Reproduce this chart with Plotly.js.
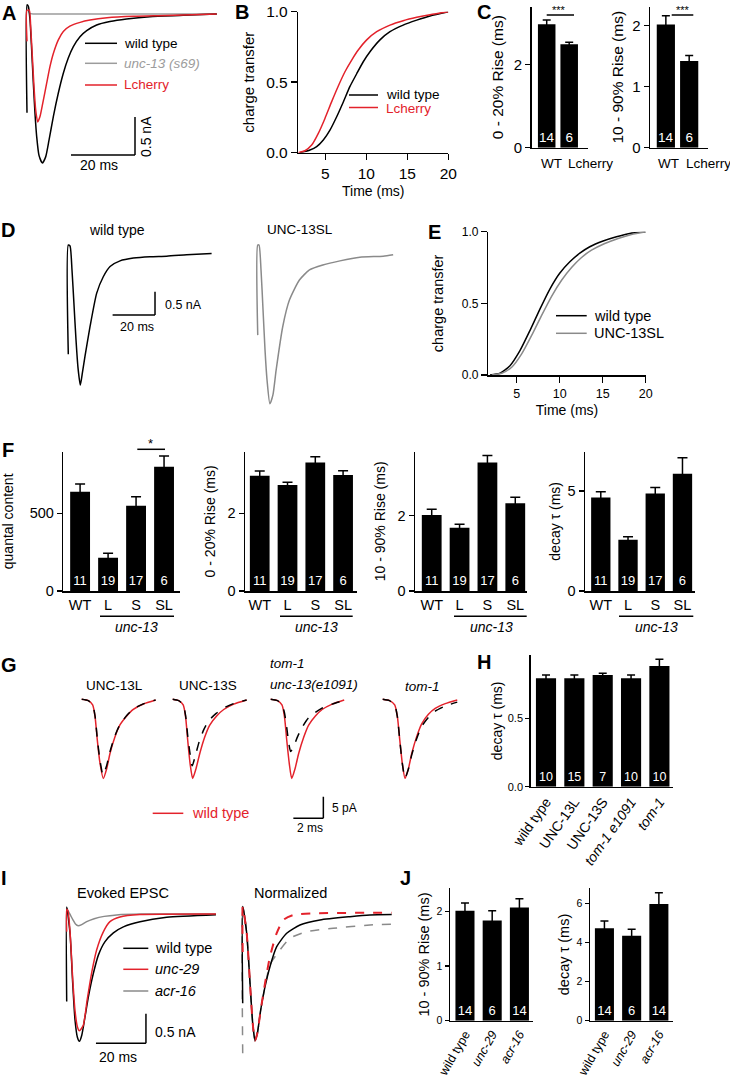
<!DOCTYPE html>
<html><head><meta charset="utf-8">
<script src="https://cdn.plot.ly/plotly-3.0.1.min.js"></script>
<style>html,body{margin:0;padding:0;background:#fff}#chart{width:730px;height:1077px}</style>
</head><body><div id="chart"></div>
<script>
// ---------- DATA ----------
// A: evoked EPSCs (time ms, current nA)
const A_t_wt=[0,0,0.42,0.94,1.46,1.98,2.5,3.02,3.75,4.79,5.83,6.88,8.23,9.79,11.35,12.9,14.48,16.56,18.65,21.77,25.9,31.1,38.4,48.8,59.3];
const A_i_wt=[-1.30,0.12,0.10,-0.08,-0.47,-0.91,-1.31,-1.61,-1.86,-1.96,-1.88,-1.66,-1.35,-1.04,-0.78,-0.58,-0.43,-0.30,-0.22,-0.145,-0.10,-0.066,-0.035,-0.018,0];
const A_t_lc=[0,0,0.73,1.15,1.67,2.19,2.71,3.33,4.06,4.9,6.15,7.19,8.23,9.79,11.35,13.4,16.6,19.7,25,33.3,43.7,59.3];
const A_i_lc=[-0.36,0.05,0.05,-0.17,-0.56,-0.96,-1.26,-1.42,-1.35,-1.18,-0.91,-0.69,-0.52,-0.34,-0.23,-0.16,-0.11,-0.08,-0.05,-0.03,-0.02,0];
const A_t_s69=[0,0.3,0.8,2,10,30,59.3];
const A_i_s69=[0.08,0.08,0.01,0,0,0,0];
// B: charge transfer
const B_t_wt=[1.91,3.13,3.95,4.76,5.57,6.39,7.2,8.01,8.83,9.63,10.45,11.67,12.89,14.5,16.15,17.77,20];
const B_q_wt=[0,0.019,0.043,0.09,0.16,0.255,0.36,0.47,0.56,0.645,0.716,0.8,0.858,0.905,0.94,0.97,1.0];
const B_t_lc=[1.71,2.52,3.34,4.15,4.96,5.78,6.59,7.4,8.22,9.02,10.05,11.27,12.89,14.5,16.15,17.77,20];
const B_q_lc=[0,0.014,0.054,0.137,0.243,0.362,0.473,0.574,0.657,0.728,0.8,0.858,0.905,0.936,0.96,0.979,1.0];
// C
const C_cats=['WT','Lcherry'];
const C_n=[14,6];
const C1_mean=[2.96,2.48], C1_sem=[0.10,0.05];
const C2_mean=[2.02,1.42], C2_sem=[0.14,0.09];
// D: EPSCs
const D_t_wt=[0,0,0.8,1.75,2.69,3.63,4.58,5.66,6.7,7.88,10.24,13.4,16.5,19.7,24.4,30.7,38.5,46.4,55.8,67.6];
const D_i_wt=[-2.19,0.15,0.13,-0.39,-1.13,-1.88,-2.48,-2.85,-2.57,-2.23,-1.6,-0.88,-0.53,-0.31,-0.19,-0.13,-0.10,-0.09,-0.06,-0.03];
const D_t_sl=[0,0,0.61,1.56,2.5,3.44,4.39,5.75,7.17,8.68,11.79,14.95,19.67,24.4,30.7,38.8,48.2,59.2,63.9];
const D_i_sl=[-1.78,0.15,0.15,-0.39,-1.24,-2.1,-2.74,-3.25,-3.06,-2.53,-1.6,-1.03,-0.60,-0.385,-0.28,-0.19,-0.11,-0.09,-0.06];
// E: charge transfer
const E_t_wt=[1.9,3.06,4.22,5.38,6.54,7.7,8.86,10.0,11.18,12.34,13.5,15.05,16.6,18.14,20];
const E_q_wt=[0,0.012,0.065,0.17,0.31,0.46,0.60,0.71,0.79,0.85,0.895,0.935,0.965,0.988,1];
const E_t_sl=[2.1,3.26,4.42,5.58,6.74,7.9,9.06,10.22,11.38,12.54,13.7,15.24,16.79,18.34,20];
const E_q_sl=[0,0.012,0.054,0.147,0.276,0.416,0.549,0.661,0.75,0.82,0.871,0.918,0.953,0.981,1];
// F
const F_cats=['WT','L','S','SL'];
const F_n=[11,19,17,6];
const F1_mean=[639,214,549,800], F1_sem=[50,29,58,69];
const F2_mean=[2.97,2.73,3.31,2.99], F2_sem=[0.12,0.07,0.15,0.11];
const F3_mean=[2.02,1.68,3.41,2.33], F3_sem=[0.15,0.09,0.19,0.16];
const F4_mean=[4.68,2.57,4.88,5.87], F4_sem=[0.29,0.15,0.30,0.80];
// G: averaged mEPSCs (ms, pA); red = wild type, black dashed = mutant
const G1_t_wt=[0,0.44,0.73,0.89,1.04,1.22,1.44,1.67,1.89,2.22,2.55,3.0,3.44,4.11,4.93];
const G1_i_wt=[0.16,-0.16,-1.15,-3.85,-9.24,-14.6,-18.1,-15.8,-12.3,-8.5,-5.77,-3.7,-2.15,-0.92,0];
const G1_t_mu=[0,0.44,0.73,0.89,1.04,1.22,1.42,1.65,1.88,2.21,2.55,3.0,3.44,4.11,4.93];
const G1_i_mu=[0.16,-0.16,-1.1,-3.7,-8.9,-14.0,-17.3,-15.3,-12.0,-8.3,-5.7,-3.6,-2.1,-0.9,0];
const G2_t_wt=[0,0.4,0.7,0.86,1.0,1.16,1.33,1.55,1.8,2.13,2.47,2.93,3.4,4.07,4.93];
const G2_i_wt=[0.16,-0.16,-1.15,-3.9,-9.3,-14.7,-18.1,-15.9,-12.4,-8.6,-5.8,-3.7,-2.2,-0.95,0];
const G2_t_mu=[0,0.4,0.7,0.86,1.0,1.16,1.3,1.5,1.75,2.08,2.42,2.9,3.37,4.05,4.93];
const G2_i_mu=[0.16,-0.16,-1.1,-3.6,-8.2,-12.5,-15.2,-13.0,-9.8,-6.8,-4.7,-3.1,-1.9,-0.85,0];
const G3_t_wt=[0,0.45,0.75,0.92,1.07,1.24,1.4,1.62,1.86,2.2,2.53,2.98,3.43,4.1,4.9];
const G3_i_wt=[0.16,-0.16,-1.15,-3.9,-9.3,-14.7,-18.1,-15.9,-12.4,-8.6,-5.8,-3.7,-2.2,-0.95,0];
const G3_t_mu=[0,0.45,0.75,0.92,1.07,1.2,1.33,1.55,1.8,2.15,2.5,2.97,3.42,4.1,4.9];
const G3_i_mu=[0.16,-0.16,-1.0,-3.0,-6.4,-9.9,-11.9,-10.6,-8.4,-6.0,-4.2,-2.9,-1.9,-0.95,-0.1];
const G4_t_wt=[0,0.45,0.8,0.98,1.14,1.31,1.49,1.71,1.94,2.27,2.6,3.05,3.5,4.17,4.97];
const G4_i_wt=[0.16,-0.16,-1.15,-3.9,-9.3,-14.7,-18.1,-15.9,-12.3,-8.4,-5.5,-3.3,-1.95,-0.85,0];
const G4_t_mu=[0,0.45,0.8,0.98,1.14,1.31,1.49,1.71,1.94,2.27,2.6,3.05,3.5,4.17,4.97];
const G4_i_mu=[0.16,-0.16,-1.15,-3.9,-9.3,-14.7,-18.0,-16.0,-12.6,-8.9,-6.1,-4.0,-2.6,-1.4,-0.5];
// H
const H_cats=['wild type','UNC-13L','UNC-13S','tom-1 e1091','tom-1'];
const H_labels=['wild type','UNC-13L','UNC-13S','<i>tom-1 e1091</i>','<i>tom-1</i>'];
const H_mean=[0.793,0.793,0.817,0.793,0.883], H_sem=[0.024,0.024,0.013,0.024,0.049];
const H_n=[10,15,7,10,10];
// I: evoked EPSC (nA) and normalized
const I_t_wt=[0,0,1.33,2.4,3.33,4.27,5.07,6.0,7.33,8.67,10.67,12.67,15.33,18.67,22.67,29.33,40,59.7];
const I_i_wt=[-1.49,0.12,-0.33,-1.18,-1.81,-2.1,-2.17,-2.07,-1.75,-1.41,-1.01,-0.70,-0.47,-0.32,-0.218,-0.131,-0.056,-0.012];
const I_t_u29=[0,0,0.5,1.33,2.4,3.33,4.27,5.07,6.6,8.2,10,12,14.7,17.3,21.3,29.3,59.7];
const I_i_u29=[-0.3,0.08,0.05,-0.3,-1.1,-1.65,-1.92,-1.99,-1.9,-1.46,-1.0,-0.61,-0.30,-0.13,-0.05,-0.01,0];
const I_t_a16=[0,0.5,1.5,2.5,3.5,4.6,6,8,11,15,20,30,59.7];
const I_i_a16=[0.1,0.06,-0.02,-0.1,-0.17,-0.2,-0.18,-0.13,-0.08,-0.04,-0.015,0,0];
const N_t_wt=[0,0,1.6,2.93,4.0,4.93,5.87,7.2,8.93,10.9,13.6,17.6,22.9,30.9,42.9,50.9,59.6];
const N_v_wt=[-0.705,0.058,-0.152,-0.547,-0.863,-1.0,-0.94,-0.758,-0.574,-0.416,-0.258,-0.152,-0.087,-0.047,-0.021,-0.008,-0.005];
const N_t_u29=[0,0,1.6,2.93,4.0,4.93,5.87,7.2,8.93,10.9,13.6,16.3,20.3,29.6,59.6];
const N_v_u29=[-0.3,0.058,-0.152,-0.547,-0.863,-1.0,-0.94,-0.758,-0.547,-0.337,-0.152,-0.047,-0.008,0.005,0.01];
const N_t_a16=[0,0,1.6,2.93,4.0,4.93,5.87,7.2,8.93,10.9,14.9,18.9,25.6,36.2,50.9,59.6];
const N_v_a16=[-1.1,0.058,-0.152,-0.547,-0.863,-1.0,-0.94,-0.758,-0.574,-0.40,-0.284,-0.192,-0.14,-0.113,-0.087,-0.08];
// J
const J_cats=['wild type','unc-29','acr-16'];
const J_labels=['wild type','<i>unc-29</i>','<i>acr-16</i>'];
const J_n=[14,6,14];
const J1_mean=[2.01,1.83,2.07], J1_sem=[0.14,0.18,0.16];
const J2_mean=[4.74,4.36,5.98], J2_sem=[0.37,0.33,0.58];

// ---------- BUILD ----------
const W=730,H=1077;
const FONT='Liberation Sans, Arial, Helvetica, sans-serif';
const RED='#e3222b', GRAYA='#9c9c9c', GRAY='#8a8a8a';
const data=[];
const layout={width:W,height:H,margin:{l:0,r:0,t:0,b:0},paper_bgcolor:'#fff',plot_bgcolor:'rgba(0,0,0,0)',
  showlegend:false,font:{family:FONT,size:14,color:'#000'},shapes:[],annotations:[]};
let n=0;
function axes(xpx,ypx,xr,yr,xo,yo){
  n++; const s=(n===1?'':n);
  layout['xaxis'+s]=Object.assign({domain:[xpx[0]/W,xpx[1]/W],range:xr,anchor:'y'+s,visible:false,fixedrange:true,showgrid:false,zeroline:false},xo||{});
  layout['yaxis'+s]=Object.assign({domain:[1-ypx[1]/H,1-ypx[0]/H],range:yr,anchor:'x'+s,visible:false,fixedrange:true,showgrid:false,zeroline:false},yo||{});
  return {x:'x'+s,y:'y'+s};
}
function yStyle(tickvals,fs,title,tfs,standoff,extra){
  return Object.assign({visible:true,showline:true,linecolor:'#000',linewidth:1.5,ticks:'outside',ticklen:5,tickwidth:1.5,tickcolor:'#000',
    tickvals:tickvals,tickfont:{size:fs,family:FONT,color:'#000'},showgrid:false,zeroline:false,
    title:{text:title,font:{size:tfs,family:FONT,color:'#000'},standoff:standoff}},extra||{});
}
function xCat(cats,labels,fs,extra){
  return Object.assign({visible:true,type:'category',categoryorder:'array',categoryarray:cats,showline:true,linecolor:'#000',linewidth:1.5,
    ticks:'',tickvals:cats,ticktext:labels||cats,tickfont:{size:fs,family:FONT,color:'#000'},showgrid:false,zeroline:false},extra||{});
}
function line(ax,x,y,color,width,dash){
  data.push({type:'scatter',mode:'lines',x:x,y:y,xaxis:ax.x,yaxis:ax.y,hoverinfo:'skip',
    line:{color:color,width:width||1.5,dash:dash||'solid',shape:'spline',smoothing:0.6}});
}
function bars(ax,cats,vals,errs,ns,w,fs,capw){
  data.push({type:'bar',x:cats,y:vals,xaxis:ax.x,yaxis:ax.y,width:w,marker:{color:'#000',line:{width:0}},
    error_y:{type:'data',array:errs,visible:true,color:'#000',thickness:1.5,width:capw||4},
    text:ns.map(String),textposition:'inside',insidetextanchor:'start',textangle:0,constraintext:'none',
    textfont:{color:'#fff',size:fs,family:FONT},hoverinfo:'skip'});
}
function txt(x,y,text,o){
  layout.annotations.push(Object.assign({xref:'paper',yref:'paper',x:x/W,y:1-y/H,text:text,showarrow:false,
    xanchor:'center',yanchor:'middle',font:{size:14,color:'#000',family:FONT}},o||{}));
}
function seg(x0,y0,x1,y1,color,w){
  layout.shapes.push({type:'line',xref:'paper',yref:'paper',x0:x0/W,y0:1-y0/H,x1:x1/W,y1:1-y1/H,line:{color:color||'#000',width:w||1.5}});
}
function dseg(ax,x0,y0,x1,y1){
  layout.shapes.push({type:'line',xref:ax.x,yref:ax.y,x0:x0,y0:y0,x1:x1,y1:y1,line:{color:'#000',width:1.5}});
}
function letter(x,y,L){ txt(x,y,'<b>'+L+'</b>',{font:{size:20,color:'#000',family:FONT}}); }

// ----- A -----
const aA=axes([23.8,219],[2.6,173.6],[-1,60],[-2.1,0.15]);
line(aA,A_t_s69,A_i_s69,GRAYA);
line(aA,A_t_wt,A_i_wt,'#000');
line(aA,A_t_lc,A_i_lc,RED);
dseg(aA,13.75,-1.855,33.75,-1.855); dseg(aA,33.75,-1.855,33.75,-1.355);
txt(98.7,165,'20 ms',{font:{size:14,family:FONT,color:'#000'}});
txt(146,137,'0.5 nA',{textangle:-90,font:{size:14,family:FONT,color:'#000'}});
seg(85,43.3,117,43.3,'#000'); seg(85,63.3,117,63.3,GRAYA); seg(85,85,117,85,RED);
txt(122,43.3,'wild type',{xanchor:'left',font:{size:13.5,family:FONT,color:'#000'}});
txt(122,63.3,'<i>unc-13 (s69)</i>',{xanchor:'left',font:{size:13.5,family:FONT,color:GRAYA}});
txt(122,85,'Lcherry',{xanchor:'left',font:{size:13.5,family:FONT,color:RED}});
letter(8.5,12.5,'A');

// ----- B -----
const aB=axes([298.3,448.3],[11.7,152.7],[1.71,20],[0,1],
  yStyle([5,10,15,20],15.5,'Time (ms)',14,5,{ticklen:6}),
  yStyle([0,0.5,1],15.5,'charge transfer',15,8,{ticklen:6,tickformat:'.1f'}));
line(aB,B_t_wt,B_q_wt,'#000');
line(aB,B_t_lc,B_q_lc,RED);
seg(349,95,378,95,'#000'); seg(349,107.5,378,107.5,RED);
txt(384,94.5,'wild type',{xanchor:'left',font:{size:13.5,family:FONT,color:'#000'}});
txt(384,108.5,'Lcherry',{xanchor:'left',font:{size:13.5,family:FONT,color:RED}});
letter(241.5,12,'B');

// ----- C -----
const aC1=axes([531.7,588.3],[6.7,147.7],[-0.667,1.85],[0,3.38],
  xCat(C_cats,null,13,{showticklabels:false}),
  yStyle([0,2],15,'0 - 20% Rise (ms)',15.5,6));
bars(aC1,C_cats,C1_mean,C1_sem,C_n,0.78,13.5,4);
const aC2=axes([650,708.3],[6.7,147.7],[-0.68,1.82],[0,2.31],
  xCat(C_cats,null,13,{showticklabels:false}),
  yStyle([0,1,2],15,'10 - 90% Rise (ms)',15.5,4));
bars(aC2,C_cats,C2_mean,C2_sem,C_n,0.78,13.5,4);
txt(551.7,163.3,'WT',{font:{size:13.5,family:FONT,color:'#000'}});
txt(590,163.3,'Lcherry',{font:{size:13.5,family:FONT,color:'#000'}});
txt(668.3,163.3,'WT',{font:{size:13.5,family:FONT,color:'#000'}});
txt(708.3,163.3,'Lcherry',{font:{size:13.5,family:FONT,color:'#000'}});
seg(546.7,15,574,15); seg(671.7,15,693.3,15);
txt(559,9.5,'***',{font:{size:11,family:FONT,color:'#000'}});
txt(682.5,9.5,'***',{font:{size:11,family:FONT,color:'#000'}});
letter(483.5,12,'C');

// ----- D -----
const aD1=axes([64.06,216.7],[238,410.8],[-2,70],[-3.4,0.3]);
line(aD1,D_t_wt,D_i_wt,'#000');
const aD2=axes([253.5,397.6],[238,410.8],[-2,66],[-3.4,0.3]);
line(aD2,D_t_sl,D_i_sl,GRAY);
dseg(aD1,20.9,-1.35,40.9,-1.35); dseg(aD1,40.9,-1.35,40.9,-0.85);
txt(163.3,305,'0.5 nA',{xanchor:'left',font:{size:12.5,family:FONT,color:'#000'}});
txt(136.7,326.7,'20 ms',{font:{size:12.5,family:FONT,color:'#000'}});
txt(117,230,'wild type',{font:{size:14,family:FONT,color:'#000'}});
txt(300.3,230,'UNC-13SL',{font:{size:13.5,family:FONT,color:'#000'}});
letter(8,230,'D');

// ----- E -----
const aE=axes([488.3,645.7],[231.7,375],[1.7,20],[0,1],
  yStyle([5,10,15,20],12.5,'Time (ms)',14,5,{ticklen:6}),
  yStyle([0,0.5,1],12,'charge transfer',14.5,14,{ticklen:6,tickformat:'.1f'}));
line(aE,E_t_wt,E_q_wt,'#000');
line(aE,E_t_sl,E_q_sl,GRAY);
seg(556,315.7,586.7,315.7,'#000'); seg(556,333.3,586.7,333.3,GRAY);
txt(591.7,315.7,'wild type',{xanchor:'left',font:{size:14.5,family:FONT,color:'#000'}});
txt(591.7,333.3,'UNC-13SL',{xanchor:'left',font:{size:14.5,family:FONT,color:'#000'}});
letter(434,232,'E');

// ----- F -----
const fDefs=[
  {xpx:[63.3,180],xr:[-0.6,3.57],yr:[0,896],tv:[0,500],title:'quantal content',so:14,m:F1_mean,s:F1_sem,ul:[100,174],uc:136.7},
  {xpx:[245,356.7],xr:[-0.53,3.49],yr:[0,3.59],tv:[0,2],title:'0 - 20% Rise (ms)',so:8,m:F2_mean,s:F2_sem,ul:[280,352.7],uc:316.7},
  {xpx:[415,526.7],xr:[-0.6,3.41],yr:[0,3.7],tv:[0,2],title:'10 - 90% Rise (ms)',so:8,m:F3_mean,s:F3_sem,ul:[454,526.7],uc:491.7},
  {xpx:[585,695],xr:[-0.58,3.46],yr:[0,6.97],tv:[0,5],title:'decay \u03c4 (ms)',so:3,m:F4_mean,s:F4_sem,ul:[619,693.3],uc:656.7}
];
fDefs.forEach(d=>{
  const a=axes(d.xpx,[451.7,591],d.xr,d.yr,xCat(F_cats,null,14.5),yStyle(d.tv,14.5,d.title,14,d.so));
  bars(a,F_cats,d.m,d.s,F_n,0.71,13,5);
  seg(d.ul[0],616.3,d.ul[1],616.3);
  txt(d.uc,627,'<i>unc-13</i>',{font:{size:14,family:FONT,color:'#000'}});
});
seg(137.3,449.3,165,449.3);
txt(150,443,'*',{font:{size:13,family:FONT,color:'#000'}});
letter(8,450,'F');

// ----- G -----
const gDefs=[[81.7,G1_t_wt,G1_i_wt,G1_t_mu,G1_i_mu],[172.7,G2_t_wt,G2_i_wt,G2_t_mu,G2_i_mu],
             [270.7,G3_t_wt,G3_i_wt,G3_t_mu,G3_i_mu],[382.7,G4_t_wt,G4_i_wt,G4_t_mu,G4_i_mu]];
const gAx=gDefs.map(d=>{
  const a=axes([d[0]-4.5,d[0]+78],[691.3,830],[-0.3,5.2],[-30,2]);
  line(a,d[1],d[2],RED,1.5);
  line(a,d[3],d[4],'#000',1.5,'dash');
  return a;
});
dseg(gAx[2],1.51,-27.3,3.51,-27.3); dseg(gAx[2],3.51,-27.3,3.51,-22.3);
txt(330,808,'5 pA',{xanchor:'left',font:{size:12,family:FONT,color:'#000'}});
txt(310,828,'2 ms',{font:{size:12,family:FONT,color:'#000'}});
seg(152.7,813.3,183.3,813.3,RED);
txt(190,813.3,'wild type',{xanchor:'left',font:{size:14.5,family:FONT,color:RED}});
txt(114,685,'UNC-13L',{font:{size:13.5,family:FONT,color:'#000'}});
txt(208,685,'UNC-13S',{font:{size:13.5,family:FONT,color:'#000'}});
txt(268.3,663.3,'<i>tom-1</i>',{xanchor:'left',font:{size:13.5,family:FONT,color:'#000'}});
txt(268.3,684,'<i>unc-13(e1091)</i>',{xanchor:'left',font:{size:13.5,family:FONT,color:'#000'}});
txt(422.3,686,'<i>tom-1</i>',{font:{size:13.5,family:FONT,color:'#000'}});
letter(9,665,'G');

// ----- H -----
const aH=axes([530.7,673.3],[655,786.7],[-0.54,4.49],[0,0.963],
  xCat(H_cats,H_labels,14,{tickangle:-55}),
  yStyle([0,0.5],11,'decay \u03c4 (ms)',14,2,{tickformat:'.1f',ticklen:4}));
bars(aH,H_cats,H_mean,H_sem,H_n,0.71,12.5,4);
letter(484,662,'H');

// ----- I -----
const aI1=axes([64.2,216.7],[902.3,1049],[-1,60],[-2.3,0.2]);
line(aI1,I_t_a16,I_i_a16,GRAY);
line(aI1,I_t_wt,I_i_wt,'#000');
line(aI1,I_t_u29,I_i_u29,RED);
const aI2=axes([240.2,392.7],[901.3,1066],[-1,60],[-1.2,0.1]);
line(aI2,N_t_a16,N_v_a16,GRAY,1.5,'dash');
line(aI2,N_t_wt,N_v_wt,'#000',1.5);
line(aI2,N_t_u29,N_v_u29,RED,2,'dash');
dseg(aI1,11.7,-2.2,31.7,-2.2); dseg(aI1,31.7,-2.2,31.7,-1.7);
txt(152.7,1031.7,'0.5 nA',{xanchor:'left',font:{size:14,family:FONT,color:'#000'}});
txt(118.3,1056.7,'20 ms',{font:{size:14,family:FONT,color:'#000'}});
seg(123.3,948.3,148.3,948.3,'#000'); seg(123.3,969.3,148.3,969.3,RED); seg(123.3,991,148.3,991,GRAY);
txt(152.7,948.3,'wild type',{xanchor:'left',font:{size:14.5,family:FONT,color:'#000'}});
txt(152.7,969.3,'<i>unc-29</i>',{xanchor:'left',font:{size:14.5,family:FONT,color:'#000'}});
txt(152.7,991,'<i>acr-16</i>',{xanchor:'left',font:{size:14.5,family:FONT,color:'#000'}});
txt(123.3,893.3,'Evoked EPSC',{font:{size:14.5,family:FONT,color:'#000'}});
txt(290,893.3,'Normalized',{font:{size:14.5,family:FONT,color:'#000'}});
letter(4,878,'I');

// ----- J -----
const aJ1=axes([450,533.3],[888.3,1020.7],[-0.55,2.51],[0,2.42],
  xCat(J_cats,J_labels,12.5,{tickangle:-60}),
  yStyle([0,1,2],10.5,'10 - 90% Rise (ms)',14.5,3,{ticklen:4}));
bars(aJ1,J_cats,J1_mean,J1_sem,J_n,0.7,13,4);
const aJ2=axes([590,673.3],[888.3,1020.7],[-0.53,2.53],[0,6.79],
  xCat(J_cats,J_labels,12.5,{tickangle:-60}),
  yStyle([0,2,4,6],10.5,'decay \u03c4 (ms)',14.5,3,{ticklen:4}));
bars(aJ2,J_cats,J2_mean,J2_sem,J_n,0.7,13,4);
letter(405,878,'J');

Plotly.newPlot('chart',data,layout,{staticPlot:true,displayModeBar:false});
</script></body></html>
